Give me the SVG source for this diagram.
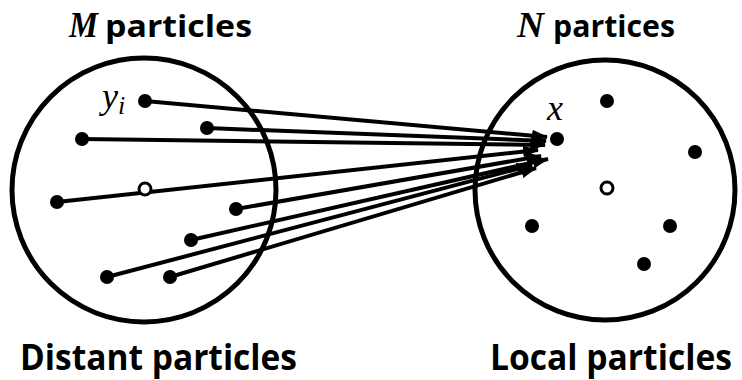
<svg xmlns="http://www.w3.org/2000/svg" width="742" height="380" viewBox="0 0 742 380">
<defs>
<style>
.ring{fill:none;stroke:#000;stroke-width:5}
.dot{fill:#000}
.open{fill:#fff;stroke:#000;stroke-width:3}
.con{stroke:#000;stroke-width:4;fill:none;marker-end:url(#ah)}
.lbl{font-family:"Open Sans","Liberation Sans",sans-serif;font-weight:bold;fill:#000}
.math{font-family:"Liberation Serif","DejaVu Serif",serif;font-style:italic;fill:#000}
</style>
<marker id="ah" markerUnits="userSpaceOnUse" markerWidth="16" markerHeight="12" refX="15" refY="6" orient="auto" viewBox="0 0 16 12">
<path d="M0,0 L16,6 L0,12 Z" fill="#000"/>
</marker>
</defs>
<rect width="742" height="380" fill="#fff"/>
<g id="distant">
<circle class="ring" cx="144" cy="190" r="132"/>
<text class="math" x="69" y="37" font-size="36" font-weight="bold" textLength="29" lengthAdjust="spacingAndGlyphs">M</text>
<text class="lbl" x="105" y="37" font-size="31" textLength="147" lengthAdjust="spacingAndGlyphs">particles</text>
<text class="lbl" x="20" y="370" font-size="35" textLength="277" lengthAdjust="spacingAndGlyphs">Distant particles</text>
<text class="math" x="102" y="108" font-size="36">y<tspan font-size="26" dy="6">i</tspan></text>
</g>
<g id="local">
<circle class="ring" cx="605" cy="190" r="130"/>
<text class="math" x="517" y="37" font-size="36" font-weight="bold" textLength="27" lengthAdjust="spacingAndGlyphs">N</text>
<text class="lbl" x="553" y="37" font-size="31" textLength="122" lengthAdjust="spacingAndGlyphs">partices</text>
<text class="lbl" x="490" y="370" font-size="35" textLength="242" lengthAdjust="spacingAndGlyphs">Local particles</text>
<text class="math" x="547" y="120" font-size="36">x</text>
</g>
<g id="connectors">
<line class="con" x1="145" y1="101" x2="547" y2="137"/>
<line class="con" x1="207" y1="128" x2="546" y2="141"/>
<line class="con" x1="82" y1="139" x2="545" y2="145"/>
<line class="con" x1="57" y1="202" x2="538" y2="150"/>
<line class="con" x1="236" y1="209" x2="541" y2="156"/>
<line class="con" x1="191" y1="240" x2="548" y2="159"/>
<line class="con" x1="107" y1="277" x2="532" y2="165"/>
<line class="con" x1="170" y1="277" x2="536" y2="168"/>
</g>
<g id="particles-distant">
<circle class="dot" cx="145" cy="101" r="7"/>
<circle class="dot" cx="207" cy="128" r="7"/>
<circle class="dot" cx="82" cy="139" r="7"/>
<circle class="open" cx="145" cy="189" r="6"/>
<circle class="dot" cx="57" cy="202" r="7"/>
<circle class="dot" cx="236" cy="209" r="7"/>
<circle class="dot" cx="191" cy="240" r="7"/>
<circle class="dot" cx="107" cy="277" r="7"/>
<circle class="dot" cx="170" cy="277" r="7"/>
</g>
<g id="particles-local">
<circle class="dot" cx="557" cy="139" r="7"/>
<circle class="dot" cx="607" cy="101" r="7"/>
<circle class="dot" cx="695" cy="152" r="7"/>
<circle class="open" cx="607" cy="188" r="6"/>
<circle class="dot" cx="532" cy="226" r="7"/>
<circle class="dot" cx="670" cy="226" r="7"/>
<circle class="dot" cx="644" cy="264" r="7"/>
</g>
</svg>
